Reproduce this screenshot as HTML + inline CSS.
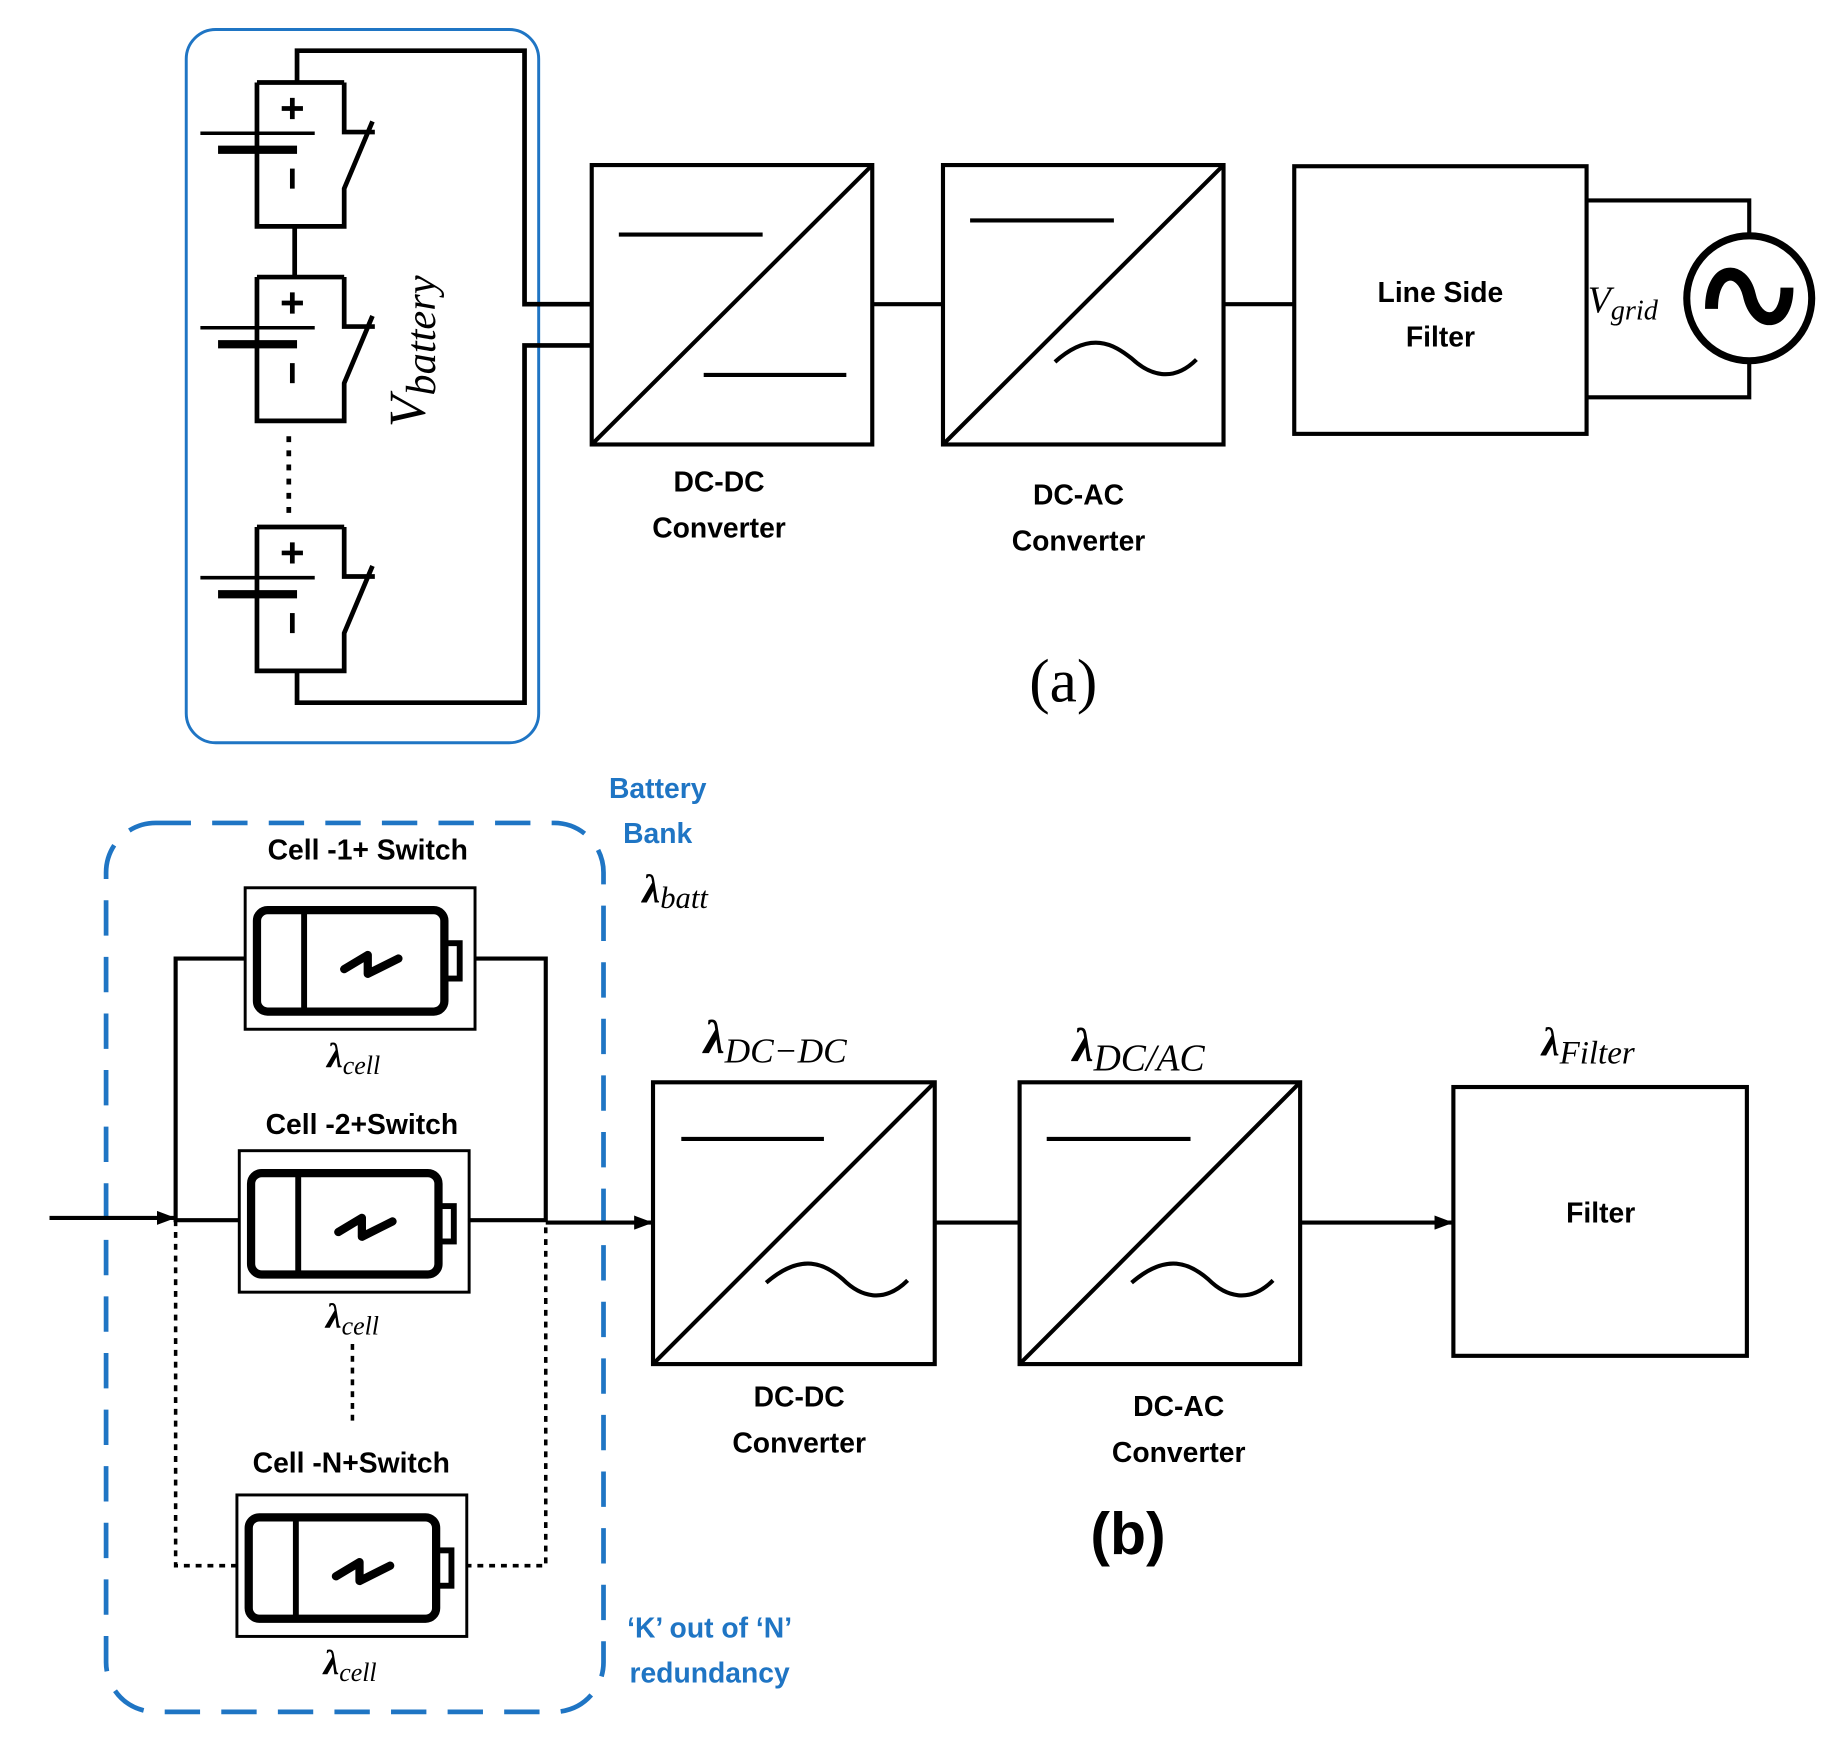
<!DOCTYPE html>
<html><head><style>html,body{margin:0;padding:0;background:#fff}svg{display:block}
.t{font-family:"Liberation Sans",sans-serif;font-weight:bold;font-size:24px;text-anchor:middle}
.m{font-family:"Liberation Serif",serif;font-style:italic}
</style></head><body>
<svg width="1840" height="1739" viewBox="0 0 1561 1475" preserveAspectRatio="none" xmlns="http://www.w3.org/2000/svg">
<defs>
<g id="acell" fill="none" stroke="#000">
<path d="M218 70 V192 H292 V160 L316 103 M292 70 H218 M292 70 V112 H318" stroke-width="4"/>
<line x1="170" y1="113" x2="267" y2="113" stroke-width="3"/>
<line x1="185" y1="127" x2="252" y2="127" stroke-width="7"/>
<path d="M239 92 H257 M248 83 V101" stroke-width="4"/>
<path d="M248 143 V160" stroke-width="4"/>
</g>
<g id="bcell" fill="none" stroke="#000">
<rect x="0" y="0" width="195" height="120" stroke-width="2.5"/>
<rect x="10" y="19" width="159" height="86" rx="9" stroke-width="7"/>
<line x1="50" y1="19" x2="50" y2="105" stroke-width="5"/>
<rect x="169" y="47" width="13" height="30" stroke-width="5"/>
<polyline points="84,69 104,57 104,73 130,60" stroke-width="7" stroke-linecap="round" stroke-linejoin="round"/>
</g>
<marker id="ar2" markerWidth="16" markerHeight="12" refX="15" refY="6" orient="auto" markerUnits="userSpaceOnUse"><path d="M0 0 L16 6 L0 12 Z" fill="#000"/></marker>
</defs>

<!-- (a) -->
<rect x="158" y="25" width="299" height="605" rx="25" fill="none" stroke="#1f75c4" stroke-width="2.5"/>
<g fill="none" stroke="#000" stroke-width="4">
<path d="M252 70 V43 H445 V258 H502"/>
<path d="M502 293 H445 V596 H252 V570"/>
<path d="M250 192 V235"/>
<path d="M245 370 V437" stroke-dasharray="5 7"/>
</g>
<use href="#acell"/>
<use href="#acell" transform="translate(0,165)"/>
<use href="#acell" transform="translate(0,377)"/>
<text class="m" font-size="44" transform="translate(360,298) rotate(-90)" text-anchor="middle">V<tspan font-size="36" dy="9">battery</tspan></text>

<g fill="none" stroke="#000" stroke-width="3.5">
<rect x="502" y="140" width="238" height="237"/>
<line x1="502" y1="377" x2="740" y2="140"/>
<line x1="525" y1="199" x2="647" y2="199"/>
<line x1="597" y1="318" x2="718" y2="318"/>
<line x1="740" y1="258" x2="800" y2="258"/>
<rect x="800" y="140" width="238" height="237"/>
<line x1="800" y1="377" x2="1038" y2="140"/>
<line x1="823" y1="187" x2="945" y2="187"/>
<path d="M895 307 C925 280 945 292 960 304 C975 318 995 325 1015 305"/>
<line x1="1038" y1="258" x2="1098" y2="258"/>
<rect x="1098" y="141" width="248" height="227"/>
<path d="M1346 170 H1484 V200 M1346 337 H1484 V308"/>
<circle cx="1484" cy="253" r="53" stroke-width="6"/>
<path d="M1452 262 C1452 225 1478 225 1484 250 C1490 278 1516 278 1516 244" stroke-width="11"/>
</g>
<text class="t" x="610" y="417">DC-DC</text>
<text class="t" x="610" y="456">Converter</text>
<text class="t" x="915" y="428">DC-AC</text>
<text class="t" x="915" y="467">Converter</text>
<text class="t" x="1222" y="256">Line Side</text>
<text class="t" x="1222" y="294">Filter</text>
<text class="m" x="1347" y="265" font-size="32">V<tspan font-size="24" dy="6">grid</tspan></text>
<text x="902" y="595" font-family="Liberation Serif,serif" font-size="52" text-anchor="middle">(a)</text>

<!-- (b) -->
<rect x="90" y="698" width="422" height="754" rx="42" fill="none" stroke="#1f75c4" stroke-width="4" stroke-dasharray="30 18"/>
<text class="t" x="558" y="677" fill="#1f75c4">Battery</text>
<text class="t" x="558" y="715" fill="#1f75c4">Bank</text>
<text class="m" x="545" y="765" font-size="34" font-weight="bold">λ<tspan font-size="26" font-weight="normal" dy="5">batt</tspan></text>

<g fill="none" stroke="#000" stroke-width="3.5">
<path d="M208 813 H149 V1035 H203 M397 1035 H463 V813 H403"/>
<path d="M149 1035 V1328 H201 M395 1328 H463 V1035 M299 1140 V1210" stroke-width="3" stroke-dasharray="5 5"/>
<line x1="42" y1="1033" x2="148" y2="1033" marker-end="url(#ar2)"/>
<line x1="463" y1="1037" x2="553" y2="1037" marker-end="url(#ar2)"/>
<rect x="554" y="918" width="239" height="239"/>
<line x1="554" y1="1157" x2="793" y2="918"/>
<line x1="578" y1="966" x2="699" y2="966"/>
<path d="M650 1088 C680 1062 700 1072 715 1085 C730 1100 750 1106 770 1086"/>
<line x1="793" y1="1037" x2="865" y2="1037"/>
<rect x="865" y="918" width="238" height="239"/>
<line x1="865" y1="1157" x2="1103" y2="918"/>
<line x1="888" y1="966" x2="1010" y2="966"/>
<path d="M960 1088 C990 1062 1010 1072 1025 1085 C1040 1100 1060 1106 1080 1086"/>
<line x1="1103" y1="1037" x2="1232" y2="1037" marker-end="url(#ar2)"/>
<rect x="1233" y="922" width="249" height="228"/>
</g>
<use href="#bcell" transform="translate(208,753)"/>
<use href="#bcell" transform="translate(203,976)"/>
<use href="#bcell" transform="translate(201,1268)"/>
<text class="t" x="312" y="729">Cell -1+ Switch</text>
<text class="t" x="307" y="962">Cell -2+Switch</text>
<text class="t" x="298" y="1249">Cell -N+Switch</text>
<g class="m" font-size="30" font-weight="bold" text-anchor="middle">
<text x="300" y="905">λ<tspan font-size="22" font-weight="normal" dy="6">cell</tspan></text>
<text x="299" y="1126">λ<tspan font-size="22" font-weight="normal" dy="6">cell</tspan></text>
<text x="297" y="1420">λ<tspan font-size="22" font-weight="normal" dy="6">cell</tspan></text>
</g>
<text class="m" x="597" y="893" font-size="40" font-weight="bold">λ<tspan font-size="30" font-weight="normal" dy="8">DC−DC</tspan></text>
<text class="m" x="910" y="900" font-size="40" font-weight="bold">λ<tspan font-size="32" font-weight="normal" dy="8">DC/AC</tspan></text>
<text class="m" x="1308" y="895" font-size="34" font-weight="bold">λ<tspan font-size="28" font-weight="normal" dy="7">Filter</tspan></text>
<text class="t" x="678" y="1193">DC-DC</text>
<text class="t" x="678" y="1232">Converter</text>
<text class="t" x="1000" y="1201">DC-AC</text>
<text class="t" x="1000" y="1240">Converter</text>
<text class="t" x="1358" y="1037">Filter</text>
<text class="t" x="957" y="1318" style="font-size:50px">(b)</text>
<text class="t" x="602" y="1389" fill="#1f75c4">‘K’ out of ‘N’</text>
<text class="t" x="602" y="1427" fill="#1f75c4">redundancy</text>
</svg>
</body></html>
